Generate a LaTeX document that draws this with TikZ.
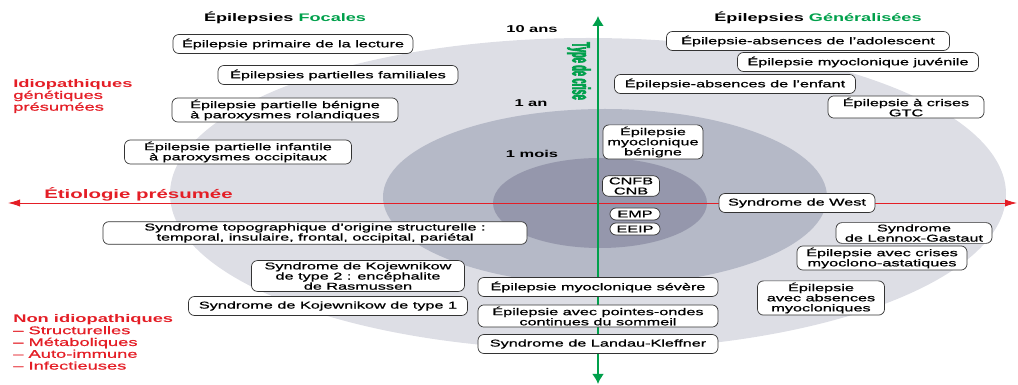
\documentclass[tikz,border=0pt]{standalone}
\usepackage{fontspec}
\setmainfont[FakeStretch=1.65, UprightFeatures={FakeBold=0.9}]{Liberation Sans}
\newfontfamily\narrowfont[FakeStretch=0.36, FakeBold=2.5]{Liberation Sans}
\usepackage{xcolor}
\usepackage{tikz}
\usetikzlibrary{arrows.meta,positioning}
\definecolor{ringout}{RGB}{221,222,229}
\definecolor{ringmid}{RGB}{181,185,199}
\definecolor{ringin}{RGB}{149,151,172}
\definecolor{axisgreen}{RGB}{0,160,75}
\definecolor{axisred}{RGB}{228,30,38}
\tikzset{
  boxnode/.style={draw=black!80, fill=white, rounded corners=0.15cm, align=center, inner xsep=3pt, inner ysep=1.2pt, minimum height=0.475cm, line width=0.5pt, font=\fontsize{7}{7.2}\selectfont},
  pillnode/.style={boxnode, minimum height=0.3cm, inner ysep=0pt, minimum width=1.25cm},
  timelab/.style={font=\bfseries\fontsize{7.1}{8}\selectfont},
  grouplab/.style={font=\bfseries\fontsize{7.8}{9}\selectfont},
  redlab/.style={text=axisred, align=left, anchor=west, inner sep=0pt, font=\fontsize{7.9}{8.4}\selectfont},
  axisarrow/.style={{Latex[length=0.25cm,width=0.3cm]}-{Latex[length=0.25cm,width=0.3cm]}}
}

\begin{document}
\begin{tikzpicture}[x=0.025cm, y=-0.025cm]
    \useasboundingbox (0,0) rectangle (1018,385);
    % Rings
    \fill[ringout] (588,194) ellipse [x radius=418, y radius=156];
    \fill[ringmid] (605,197) ellipse [x radius=222, y radius=88];
    \fill[ringin] (600,203) ellipse [x radius=107, y radius=45];
    % Axes
    \coordinate (gbot) at (598,384);
    \coordinate (gtop) at (598,16);
    \coordinate (rleft) at (8,203);
    \coordinate (rright) at (1017,203);
    \draw[axisred, line width=0.6pt, {Latex[length=0.3cm,width=0.18cm]}-{Latex[length=0.3cm,width=0.18cm]}] (rright) -- (rleft);
    \draw[axisgreen, line width=1.5pt, axisarrow] (gbot) -- (gtop);
    \node[text=axisgreen, rotate=-90, font=\narrowfont\bfseries\fontsize{18}{19}\selectfont] (crise) at (579,71) {Type de crise};
    % Time marks
    \node[timelab] (t10) at (532,29) {10 ans};
    \node[timelab] (t1a) at (531,103) {1 an};
    \node[timelab] (t1m) at (532,154) {1 mois};
    % Group titles
    \node[grouplab] (focal) at (285,18) {Épilepsies \textcolor{axisgreen}{Focales}};
    \node[grouplab] (gener) at (818,18) {Épilepsies \textcolor{axisgreen}{Généralisées}};
    % Aetiology labels
    \node[redlab] (idio) at (13,96) {\textbf{Idiopathiques}\\génétiques\\présumées};
    \node[redlab, font=\bfseries\fontsize{8.8}{9}\selectfont] (etio) at (44,194) {Étiologie présumée};
    \node[redlab] (nonidio) at (13,342) {\textbf{Non idiopathiques}\\– Structurelles\\– Métaboliques\\– Auto-immune\\– Infectieuses};
    % Focal syndromes
    \node[boxnode, minimum width=6cm] (lecture) at (293,44) {Épilepsie primaire de la lecture};
    \node[boxnode, minimum width=6cm] (famil) at (338,75) {Épilepsies partielles familiales};
    \node[boxnode, minimum width=5.65cm] (roland) at (285,110) {Épilepsie partielle bénigne\\à paroxysmes rolandiques};
    \node[boxnode, minimum width=5.675cm] (occip) at (238,152) {Épilepsie partielle infantile\\à paroxysmes occipitaux};
    \node[boxnode, minimum width=10.6cm] (topo) at (315,233) {Syndrome topographique d'origine structurelle :\\temporal, insulaire, frontal, occipital, pariétal};
    \node[boxnode, minimum width=5.325cm] (kojtwo) at (358,276) {Syndrome de Kojewnikow\\de type 2 : encéphalite\\de Rasmussen};
    \node[boxnode, minimum width=6.975cm] (kojone) at (328,306) {Syndrome de Kojewnikow de type 1};
    % Central syndromes
    \node[boxnode, minimum width=6cm] (severe) at (598,287) {Épilepsie myoclonique sévère};
    \node[boxnode, minimum width=6cm] (pointes) at (598,316) {Épilepsie avec pointes-ondes\\continues du sommeil};
    \node[boxnode, minimum width=6cm] (landau) at (598,344) {Syndrome de Landau-Kleffner};
    \node[boxnode, minimum width=2.5cm] (benigne) at (653,142) {Épilepsie\\myoclonique\\bénigne};
    \node[boxnode, minimum width=1.425cm] (cnfb) at (631,186) {CNFB\\CNB};
    \node[pillnode] (emp) at (635,214) {EMP};
    \node[pillnode] (eeip) at (635,229) {EEIP};
    % Generalised syndromes
    \node[boxnode, minimum width=7.075cm] (adol) at (808,41) {Épilepsie-absences de l'adolescent};
    \node[boxnode, minimum width=6.025cm] (juven) at (858,62) {Épilepsie myoclonique juvénile};
    \node[boxnode, minimum width=6.025cm] (enfant) at (735,84) {Épilepsie-absences de l'enfant};
    \node[boxnode, minimum width=3.9cm] (gtc) at (906,107) {Épilepsie à crises\\GTC};
    \node[boxnode, minimum width=3.9cm] (west) at (797,203) {Syndrome de West};
    \node[boxnode, minimum width=3.9cm] (lennox) at (914,233) {Syndrome\\de Lennox-Gastaut};
    \node[boxnode, minimum width=4.25cm] (astat) at (882,258) {Épilepsie avec crises\\myoclono-astatiques};
    \node[boxnode, minimum width=3.175cm] (absmyo) at (821,298) {Épilepsie\\avec absences\\myocloniques};
\end{tikzpicture}
\end{document}
